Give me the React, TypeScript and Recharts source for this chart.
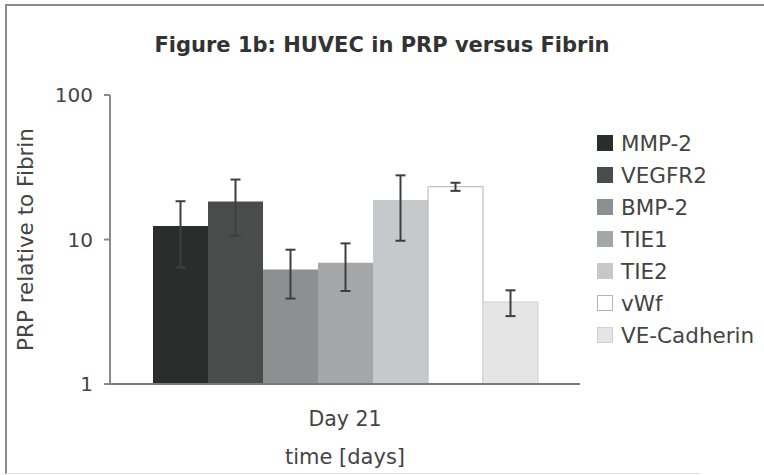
import React from 'react';
import { BarChart, Bar, XAxis, YAxis, Legend, ErrorBar } from 'recharts';

// Fold change of PRP over fibrin, one bar per gene, at day 21
const genes = ['MMP-2', 'VEGFR2', 'BMP-2', 'TIE1', 'TIE2', 'vWf', 'VE-Cadherin'];
const foldChange = [12.4, 18.3, 6.2, 6.9, 18.8, 23.2, 3.7];
const errors = [6.0, 7.7, 2.3, 2.5, 9.0, 1.5, 0.75];
const timepoints = ['Day 21'];
const yTicks = [1, 10, 100];

const fills = ['#2b2d2d', '#4a4c4c', '#8d8f91', '#a4a6a8', '#c5c9cb', '#ffffff', '#e5e5e5'];
const strokes = ['none', 'none', 'none', 'none', 'none', '#b4b4b4', '#d2d2d2'];

const FONT = "'DejaVu Sans', Verdana, sans-serif";
const TEXT = '#444';

const data = timepoints.map((day) => {
  const row: Record<string, string | number> = { day };
  genes.forEach((g, i) => {
    row[g] = foldChange[i];
    row[g + '_err'] = errors[i];
  });
  return row;
});

const GeneLegend = () => (
  <div style={{ fontSize: 21.5, color: TEXT, fontFamily: FONT, whiteSpace: 'nowrap' }}>
    {genes.map((g, i) => (
      <div key={g} style={{ display: 'flex', alignItems: 'center', height: 32 }}>
        <span
          style={{
            flex: 'none',
            width: 16,
            height: 16,
            boxSizing: 'border-box',
            background: fills[i],
            border: strokes[i] === 'none' ? 'none' : `1px solid ${strokes[i]}`,
            marginRight: 8,
          }}
        />
        {g}
      </div>
    ))}
  </div>
);

const YTitle = (props: any) => {
  const { viewBox } = props;
  const cy = viewBox.y + viewBox.height / 2;
  return (
    <text
      x={25}
      y={cy}
      transform={`rotate(-90, 25, ${cy})`}
      textAnchor="middle"
      dominantBaseline="central"
      fill={TEXT}
      fontSize={21.5}
    >
      PRP relative to Fibrin
    </text>
  );
};

const XTitle = (props: any) => {
  const { viewBox } = props;
  return (
    <text
      x={viewBox.x + viewBox.width / 2}
      y={457}
      textAnchor="middle"
      dominantBaseline="central"
      fill={TEXT}
      fontSize={21}
    >
      time [days]
    </text>
  );
};

export default function App() {
  return (
    <div
      style={{
        position: 'relative',
        width: 764,
        height: 475,
        overflow: 'hidden',
        background: '#fff',
        fontFamily: FONT,
      }}
    >
      <style>{'body { margin: 0; }'}</style>
      {/* figure frame: dark left/top edges, faint bottom edge */}
      <svg
        width={764}
        height={475}
        style={{ position: 'absolute', left: 0, top: 0, pointerEvents: 'none' }}
      >
        <line x1={6} y1={5} x2={764} y2={5} stroke="#8c8c8c" strokeWidth={2} />
        <line x1={6} y1={4} x2={6} y2={474} stroke="#8c8c8c" strokeWidth={2} />
        <line x1={6} y1={473.5} x2={700} y2={473.5} stroke="#dedede" strokeWidth={1} />
      </svg>
      <div
        style={{
          position: 'absolute',
          left: 0,
          top: 33,
          width: 764,
          textAlign: 'center',
          fontSize: 21,
          fontWeight: 'bold',
          lineHeight: '24px',
          color: '#333',
        }}
      >
        Figure 1b: HUVEC in PRP versus Fibrin
      </div>
      <BarChart
        width={764}
        height={475}
        data={data}
        margin={{ top: 95, right: 34, bottom: 0, left: 0 }}
        barCategoryGap="9.15%"
        barGap={0}
      >
        <XAxis
          dataKey="day"
          height={91}
          tickLine={false}
          tickSize={0}
          tickMargin={27}
          axisLine={{ stroke: '#7a7a7a', strokeWidth: 2 }}
          tick={{ fill: TEXT, fontSize: 20.5 }}
          label={<XTitle />}
        />
        <YAxis
          type="number"
          scale="log"
          domain={[1, 100]}
          ticks={yTicks}
          allowDataOverflow
          width={110}
          tickSize={6}
          tickMargin={11}
          axisLine={{ stroke: '#8a8a8a', strokeWidth: 2 }}
          tickLine={{ stroke: '#8a8a8a', strokeWidth: 2 }}
          tick={{ fill: TEXT, fontSize: 20 }}
          label={<YTitle />}
        />
        <Legend
          layout="vertical"
          align="right"
          verticalAlign="top"
          width={150}
          content={<GeneLegend />}
          wrapperStyle={{ left: 597, top: 127 }}
        />
        {genes.map((g, i) => (
          <Bar
            key={g}
            dataKey={g}
            fill={fills[i]}
            stroke={strokes[i]}
            isAnimationActive={false}
          >
            <ErrorBar
              dataKey={g + '_err'}
              direction="y"
              width={5}
              stroke="#3e3e3e"
              strokeWidth={2}
            />
          </Bar>
        ))}
      </BarChart>
    </div>
  );
}
